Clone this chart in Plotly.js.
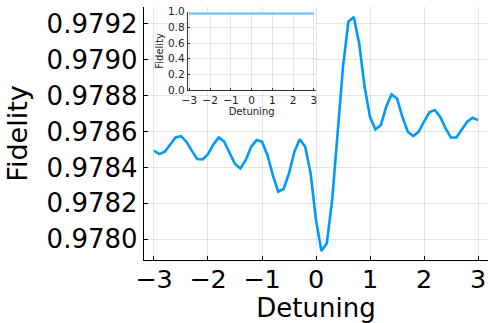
<!DOCTYPE html>
<html>
<head>
<meta charset="utf-8">
<script src="https://cdn.plot.ly/plotly-3.0.1.min.js"></script>
<style>html,body{margin:0;padding:0;background:#fff;}#chart{width:488px;height:323px;}</style>
</head>
<body>
<div id="chart"></div>
<script>
const detuning = [-3.0,-2.9,-2.8,-2.7,-2.6,-2.5,-2.4,-2.3,-2.2,-2.1,-2.0,-1.9,-1.8,-1.7,-1.6,-1.5,-1.4,-1.3,-1.2,-1.1,-1.0,-0.9,-0.8,-0.7,-0.6,-0.5,-0.4,-0.3,-0.2,-0.1,0.0,0.1,0.2,0.3,0.4,0.5,0.6,0.7,0.8,0.9,1.0,1.1,1.2,1.3,1.4,1.5,1.6,1.7,1.8,1.9,2.0,2.1,2.2,2.3,2.4,2.5,2.6,2.7,2.8,2.9,3.0];
const fidelity = [0.978493,0.978474,0.978487,0.978524,0.978567,0.978574,0.978543,0.978493,0.978446,0.978444,
  0.978474,0.978528,0.978567,0.978543,0.978481,0.978419,0.978394,0.978441,0.978515,0.978552,
  0.978543,0.978469,0.978357,0.978265,0.978280,0.978367,0.978487,0.978556,0.978515,0.978367,
  0.978107,0.977935,0.977978,0.978219,0.978589,0.978959,0.979210,0.979237,0.979089,0.978848,
  0.978681,0.978611,0.978635,0.978737,0.978806,0.978783,0.978681,0.978598,0.978574,0.978598,
  0.978654,0.978706,0.978719,0.978681,0.978617,0.978565,0.978567,0.978607,0.978654,0.978676,0.978663];
const mainXTicks = [-3,-2,-1,0,1,2,3];
const mainYTicks = [0.9780,0.9782,0.9784,0.9786,0.9788,0.9790,0.9792];
const insetYTicks = [0,0.2,0.4,0.6,0.8,1.0];

const FONT = "DejaVu Sans, sans-serif";
const grid = "rgba(0,0,0,0.1)";
const minusLabels = mainXTicks.map(v => v < 0 ? '\u2212' + Math.abs(v) : String(v));

const traces = [
  {x: detuning, y: fidelity, type: 'scatter', mode: 'lines', xaxis: 'x', yaxis: 'y',
   line: {color: '#009AFA', width: 2.6}, showlegend: false, hoverinfo: 'skip'},
  {x: detuning, y: fidelity, type: 'scatter', mode: 'lines', xaxis: 'x2', yaxis: 'y2',
   line: {color: '#5cbdf7', width: 2}, showlegend: false, hoverinfo: 'skip'}
];

const layout = {
  width: 488, height: 323,
  margin: {l: 144, r: 0, t: 7, b: 63, pad: 0},
  paper_bgcolor: '#fff', plot_bgcolor: '#fff',
  font: {family: FONT, color: '#000'},
  showlegend: false,
  xaxis: {
    domain: [0, 1], range: [-3.185, 3.185], tickvals: mainXTicks, ticktext: minusLabels,
    showgrid: true, gridcolor: grid, gridwidth: 1, zeroline: false,
    showline: true, linecolor: '#000', linewidth: 1.2, mirror: false,
    ticks: 'inside', ticklen: 4, tickcolor: '#000', tickwidth: 1,
    ticklabelstandoff: -4,
    tickfont: {size: 25.5, family: FONT, color: '#000'},
    title: {text: 'Detuning', font: {size: 26, family: FONT, color: '#000'}, standoff: 10},
    anchor: 'y'
  },
  yaxis: {
    domain: [0, 1], range: [0.977885, 0.979292], tickvals: mainYTicks, tickformat: '.4f',
    showgrid: true, gridcolor: grid, gridwidth: 1, zeroline: false,
    showline: true, linecolor: '#000', linewidth: 1.2, mirror: false,
    ticks: 'inside', ticklen: 4, tickcolor: '#000', tickwidth: 1,
    tickfont: {size: 26, family: FONT, color: '#000'},
    title: {text: 'Fidelity', font: {size: 27, family: FONT, color: '#000'}, standoff: 11},
    anchor: 'x'
  },
  xaxis2: {
    domain: [0.127, 0.4988], range: [-3.08, 3.08], tickvals: mainXTicks, ticktext: minusLabels,
    showgrid: true, gridcolor: grid, gridwidth: 1, zeroline: false,
    showline: true, linecolor: '#333', linewidth: 1, mirror: false,
    ticks: 'inside', ticklen: 2, tickcolor: '#333',
    tickfont: {size: 10.5, family: FONT, color: '#222'},
    title: {text: 'Detuning', font: {size: 10, family: FONT, color: '#222'}, standoff: 1},
    anchor: 'y2'
  },
  yaxis2: {
    domain: [0.672, 0.981], range: [0, 1], tickvals: insetYTicks, tickformat: '.1f',
    showgrid: true, gridcolor: grid, gridwidth: 1, zeroline: false,
    showline: true, linecolor: '#333', linewidth: 1, mirror: false,
    ticks: 'inside', ticklen: 2, tickcolor: '#333',
    tickfont: {size: 10.5, family: FONT, color: '#222'},
    title: {text: 'Fidelity', font: {size: 10, family: FONT, color: '#222'}, standoff: 2},
    anchor: 'x2'
  },
  shapes: [
    {type: 'rect', xref: 'x2 domain', yref: 'y2 domain', x0: -0.24, x1: 1.03, y0: -0.32, y1: 1.1,
     fillcolor: '#fff', line: {width: 0}, layer: 'below'}
  ]
};

Plotly.newPlot('chart', traces, layout, {staticPlot: true, displayModeBar: false});
</script>
</body>
</html>
